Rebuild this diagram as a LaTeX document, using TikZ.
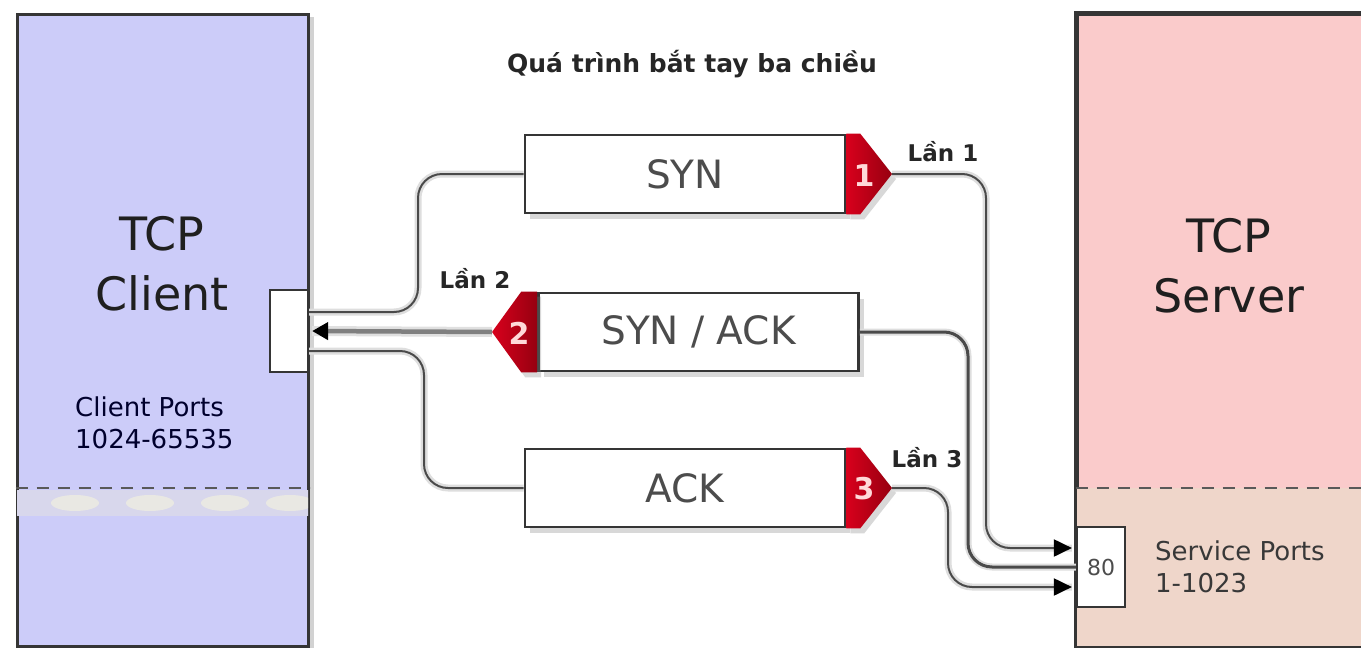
\documentclass[tikz,border=0pt]{standalone}
\usepackage{fontspec}
\setmainfont{DejaVu Sans}
\usetikzlibrary{arrows.meta,shadows,calc}

\definecolor{clientfill}{HTML}{CCCCF9}
\definecolor{serverfill}{HTML}{FACBCB}
\definecolor{serverlow}{HTML}{EFD6CA}
\definecolor{edgec}{HTML}{353535}
\definecolor{msgtext}{HTML}{4C4C4C}
\definecolor{tabred}{HTML}{D8001C}
\definecolor{tabdark}{HTML}{960010}
\definecolor{connc}{HTML}{4A4A4A}
\definecolor{bandc}{HTML}{D8D7EC}

\begin{document}
\begin{tikzpicture}[x=1pt,y=-1pt,
  host/.style={draw=edgec, line width=3pt, inner sep=0pt,
    drop shadow={shadow xshift=6pt, shadow yshift=-3pt, opacity=0.35}},
  port/.style={draw=edgec, line width=2.2pt, fill=white, inner sep=0pt},
  msg/.style={draw=edgec, line width=2.6pt, fill=white, inner sep=0pt,
    minimum width=320pt, minimum height=78pt, text=msgtext,
    font=\fontsize{39}{39}\selectfont,
    drop shadow={shadow xshift=5pt, shadow yshift=-6pt, opacity=0.3}},
  tabshape/.style={drop shadow={shadow xshift=4pt, shadow yshift=-5pt, opacity=0.3}},
  tabnum/.style={text=white!85!red, font=\bfseries\fontsize{30}{30}\selectfont, inner sep=0pt},
  hosttitle/.style={align=center, text=black!88, font=\fontsize{46}{60}\selectfont},
  portinfo/.style={align=left, inner sep=0pt, font=\fontsize{26}{32}\selectfont},
  stepnote/.style={text=black!85, font=\bfseries\fontsize{23}{23}\selectfont, inner sep=0pt},
  conn/.style={draw=connc, line width=2pt, rounded corners=24pt,
    preaction={draw=black!13, line width=7pt, arrows=-}},
  tip/.style={-{Triangle[length=18pt,width=17pt,black]}},
  divider/.style={draw=black!65, line width=2pt, dash pattern=on 12pt off 9pt}]

\useasboundingbox (0,0) rectangle (1361,648);
\clip (0,0) rectangle (1361,648);
\fill[white] (0,0) rectangle (1361,648);

% ---- the two hosts ----
\node[host, fill=clientfill, minimum width=291pt, minimum height=632pt] (client) at (162.5,330) {};
\node[host, fill=serverfill, minimum width=310pt, minimum height=632pt] (server) at (1232,330) {};

% lower part of each host (port area)
\begin{scope}
  \clip ($(client.west |- 0,490)+(1.5,0)$) rectangle ($(client.east |- 0,516)+(-1.5,0)$);
  \fill[bandc] (0,490) rectangle (400,516);
  \foreach \bx in {75,150,225,290}
    \fill[white!85!yellow, opacity=0.45] (\bx,503) ellipse (24pt and 8pt);
\end{scope}
\fill[serverlow] ($(server.west |- 0,488)+(1.5,0)$) rectangle ($(server.south east)+(-1.5,-1.5)$);
\draw[edgec, line width=3pt] (server.north west) rectangle (server.south east);
\draw[divider] (client.west |- 0,488) -- (client.east |- 0,488);
\draw[divider] (server.west |- 0,488) -- (server.east |- 0,488);

\node[hosttitle] (clientname) at (162,264) {TCP\\Client};
\node[hosttitle] (servername) at (1229,266) {TCP\\Server};
\node[portinfo, anchor=north west, text=black!75!blue!70!black] (clientports) at (75,397) {Client Ports\\1024-65535};
\node[portinfo, anchor=north west, text=black!78] (serviceports) at (1155,541) {Service Ports\\1-1023};

% port boxes
\node[port, minimum width=38pt, minimum height=82pt] (cport) at (289,331) {};
\node[port, minimum width=48pt, minimum height=80pt, text=black!70,
      font=\fontsize{22}{22}\selectfont] (sport) at (1101,567) {80};

% ---- title ----
\node[text=black!85, font=\bfseries\fontsize{25}{25}\selectfont] (title) at (692,64) {Quá trình bắt tay ba chiều};

% ---- the three segments ----
\node[msg] (syn) at (685,174) {SYN};
\node[msg] (synack) at (698.5,332) {SYN / ACK};
\node[msg] (ack) at (685,488) {ACK};

\coordinate (t1) at (892,174);
\coordinate (t2) at (492,332);
\coordinate (t3) at (892,488);

\path[tabshape, left color=tabred, right color=tabdark]
  (syn.north east) -- ++(14,0) -- (t1) -- ($(syn.south east)+(14,0)$) -- (syn.south east) -- cycle;
\path[tabshape, left color=tabred, right color=tabdark]
  (synack.north west) -- ++(-16,0) -- (t2) -- ($(synack.south west)+(-16,0)$) -- (synack.south west) -- cycle;
\path[tabshape, left color=tabred, right color=tabdark]
  (ack.north east) -- ++(14,0) -- (t3) -- ($(ack.south east)+(14,0)$) -- (ack.south east) -- cycle;

\node[tabnum] (n1) at (864,176) {1};
\node[tabnum] (n2) at (519,333) {2};
\node[tabnum] (n3) at (864,489) {3};

\node[stepnote] (l1) at (943,152) {Lần 1};
\node[stepnote] (l2) at (475,279) {Lần 2};
\node[stepnote] (l3) at (927,458) {Lần 3};

% ---- connectors, client side ----
\draw[conn] (syn.west) -- (418,174) -- (418,312) -- (cport.east |- 0,312);
\draw[conn] (ack.west) -- (424,488) -- (424,351) -- (cport.east |- 0,351);
\draw[line width=4.5pt, draw=black!50, preaction={draw=black!12, line width=10pt, arrows=-},
      -{Triangle[length=16pt,width=17pt,black]}] (t2) -- ($(cport.east)+(3,0)$);

% ---- connectors, server side ----
\draw[conn, tip] (t1) -- (986,174) -- (986,548) -- ($(sport.west |- 0,548)+(-4,0)$);
\draw[conn, line width=3pt] (synack.east) -- (968,332) -- (968,567) -- (sport.west);
\draw[conn, tip] (t3) -- (948,488) -- (948,587) -- ($(sport.west |- 0,587)+(-4,0)$);

\end{tikzpicture}
\end{document}
